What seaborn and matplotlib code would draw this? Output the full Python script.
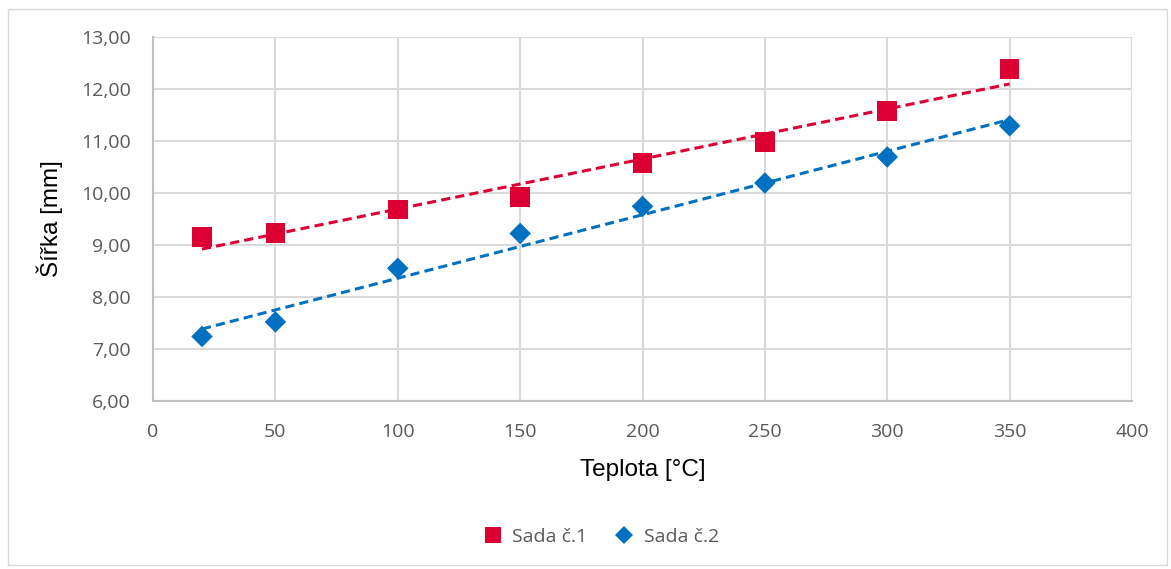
import pandas as pd
import seaborn as sns
import matplotlib.pyplot as plt
from matplotlib.ticker import FuncFormatter, MultipleLocator
from matplotlib.patches import Rectangle

# values
teplota = [20, 50, 100, 150, 200, 250, 300, 350]
sada1 = [9.15, 9.23, 9.68, 9.92, 10.57, 10.98, 11.57, 12.38]
sada2 = [7.24, 7.52, 8.55, 9.22, 9.74, 10.19, 10.69, 11.29]
names = ['Sada č.1', 'Sada č.2']

red = '#DC0032'
blue = '#0070C0'
grey_text = '#595959'

df = pd.concat([
    pd.DataFrame({'Teplota': teplota, 'Sirka': sada1, 'Sada': names[0]}),
    pd.DataFrame({'Teplota': teplota, 'Sirka': sada2, 'Sada': names[1]}),
])

sns.set_style('white')
plt.rcParams['font.family'] = ['Open Sans', 'DejaVu Sans']

fig = plt.figure(figsize=(11.71, 5.69), dpi=100)
ax = fig.add_axes([0.1307, 0.2953, 0.836, 0.64])

# chart area border
fig.patches.append(Rectangle((0.007, 0.007), 0.99, 0.978, transform=fig.transFigure,
                             fill=False, edgecolor='#D9D9D9', linewidth=1))

# linear trendlines first so markers sit on top
for vals, col in [(sada1, red), (sada2, blue)]:
    sns.regplot(x=teplota, y=vals, ax=ax, scatter=False, ci=None, color=col,
                line_kws={'linestyle': (0, (3, 1.7)), 'linewidth': 2.2})

sns.scatterplot(data=df, x='Teplota', y='Sirka', hue='Sada', style='Sada',
                palette={names[0]: red, names[1]: blue},
                markers={names[0]: 's', names[1]: 'D'},
                size='Sada', sizes={names[0]: 200, names[1]: 120},
                edgecolor='none', linewidth=0, ax=ax, zorder=5)

ax.set_xlim(0, 400)
ax.set_ylim(6, 13)
ax.xaxis.set_major_locator(MultipleLocator(50))
ax.yaxis.set_major_locator(MultipleLocator(1))
ax.yaxis.set_major_formatter(FuncFormatter(lambda v, p: f'{v:.2f}'.replace('.', ',')))

ax.grid(True, color='#D9D9D9', linewidth=1.5)
ax.set_axisbelow(True)
for s in ['top', 'right']:
    ax.spines[s].set_visible(False)
for s in ['left', 'bottom']:
    ax.spines[s].set_color('#BFBFBF')
    ax.spines[s].set_linewidth(1.5)

ax.tick_params(axis='both', length=0, labelsize=14, labelcolor=grey_text)
ax.tick_params(axis='x', pad=16)
ax.tick_params(axis='y', pad=16)
ax.set_xlabel('Teplota [°C]', fontsize=17.5, color='black', labelpad=13,
              family=['Liberation Sans', 'DejaVu Sans'])
ax.set_ylabel('Šířka [mm]', fontsize=17.5, color='black', labelpad=13,
              family=['Liberation Sans', 'DejaVu Sans'])

handles, labels = ax.get_legend_handles_labels()
seen = {}
for h, l in zip(handles, labels):
    if l in names:
        seen.setdefault(l, h)
ax.legend([seen[n] for n in names], names, loc='center', ncol=2,
          bbox_to_anchor=(0.509, 0.056), bbox_transform=fig.transFigure,
          frameon=False, fontsize=14, labelcolor=grey_text,
          handletextpad=0.0, columnspacing=0.9, markerscale=0.8)

fig.savefig('out.png', dpi=100)
